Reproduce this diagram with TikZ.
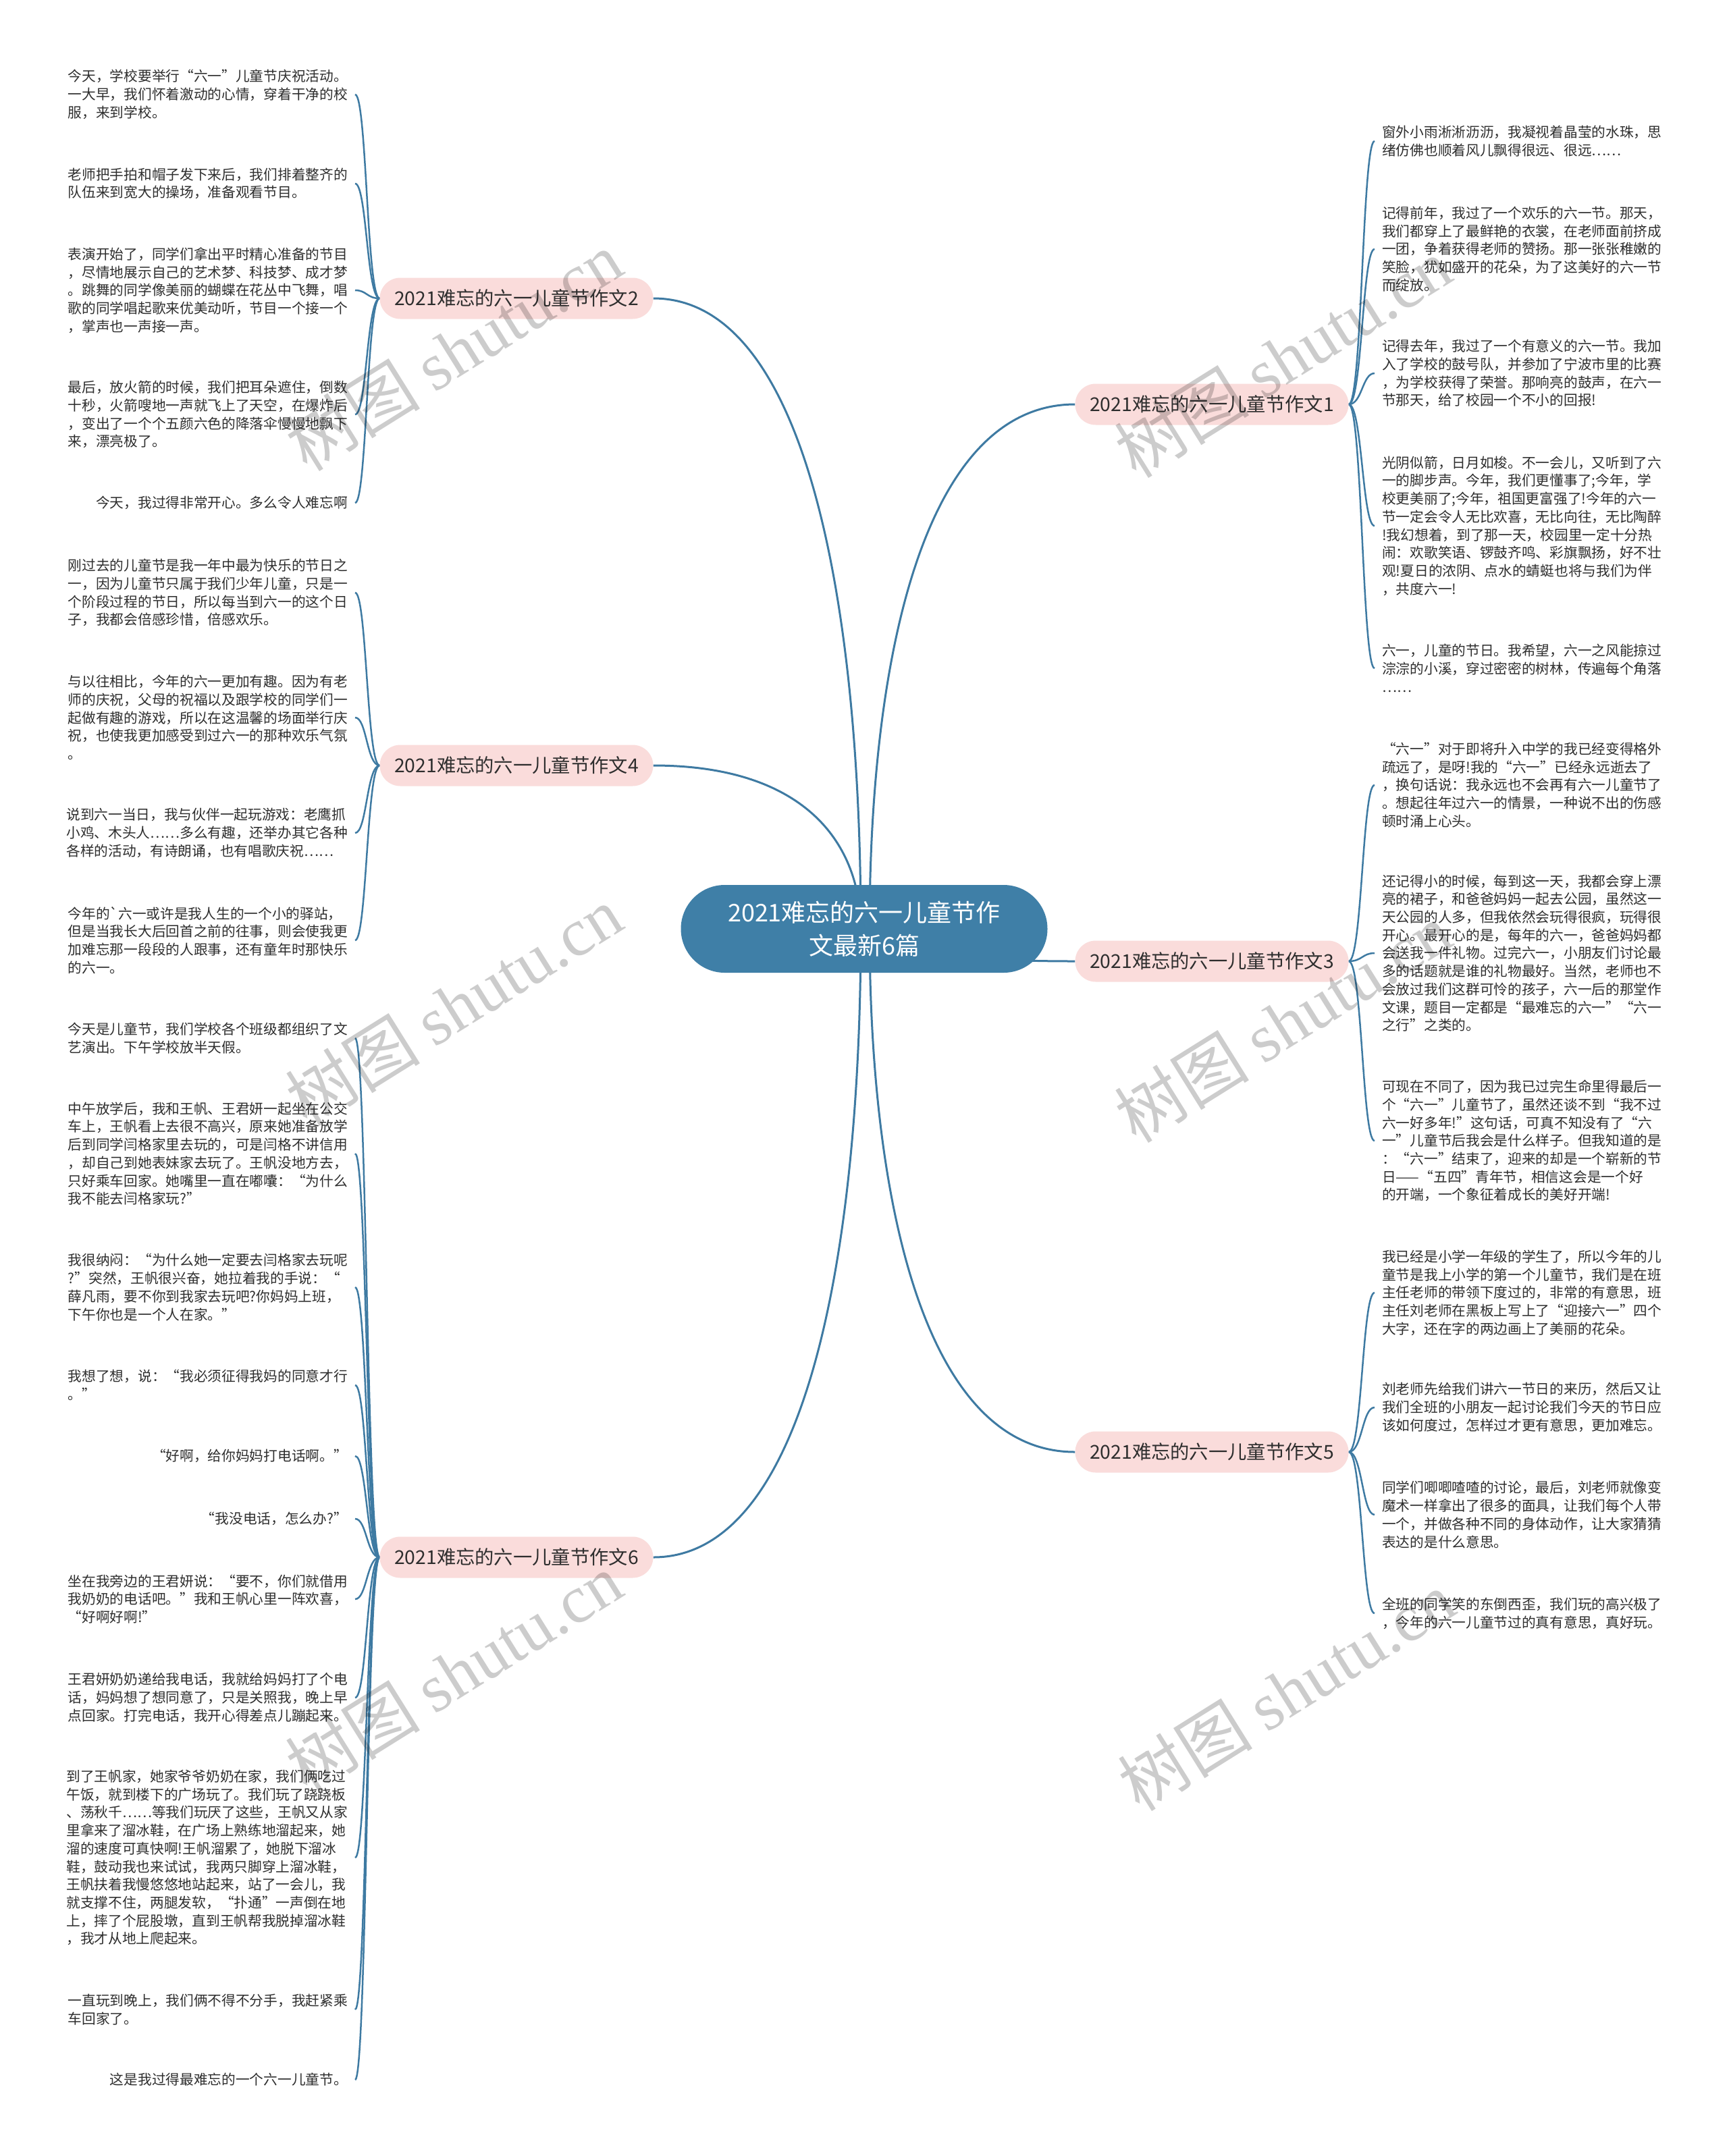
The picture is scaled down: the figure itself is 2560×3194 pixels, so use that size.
\documentclass[tikz,border=0pt]{standalone}
\usepackage{fontspec}
\newfontfamily\cjk{Noto Sans CJK SC}
\newfontfamily\wmfont{Liberation Serif}
\usepackage{tikz}
\usetikzlibrary{positioning,calc,shapes.misc}
\definecolor{rootblue}{HTML}{3F7FA7}
\definecolor{linkblue}{HTML}{3E7AA2}
\definecolor{branchpink}{HTML}{FADCDB}
\definecolor{leafink}{HTML}{2E2E2E}
\pgfdeclarelayer{background}
\pgfsetlayers{background,main}
\tikzset{
  rootbox/.style={rounded rectangle, fill=rootblue, text=white, align=center, minimum width=543pt, minimum height=130pt, inner sep=0pt, font=\cjk\fontsize{36}{49}\selectfont},
  branchbox/.style={rounded rectangle, fill=branchpink, text=leafink, minimum width=405pt, minimum height=61pt, inner sep=0pt, font=\cjk\fontsize{28.3}{34}\selectfont},
  leafl/.style={anchor=east, align=left, inner xsep=11pt, inner ysep=0pt, text=leafink, font=\cjk\fontsize{20.7}{26.7}\selectfont},
  leafr/.style={leafl, anchor=west},
  link/.style={draw=linkblue, line width=3pt},
  leaflink/.style={draw=linkblue, line width=2.5pt},
  wmark/.style={rotate=32, text=black, opacity=0.2, font=\fontsize{100}{100}\selectfont}
}
\begin{document}
\begin{tikzpicture}[x=1pt, y=-1pt]
  \useasboundingbox (0,0) rectangle (2560,3194);
  \node[rootbox] (root) at (1280,1376) {2021难忘的六一儿童节作\\文最新6篇};
  \node[branchbox] (b2) at (765,442) {2021难忘的六一儿童节作文2};
  \node[branchbox] (b4) at (765,1134) {2021难忘的六一儿童节作文4};
  \node[branchbox] (b6) at (765,2307) {2021难忘的六一儿童节作文6};
  \node[branchbox] (b1) at (1795,599) {2021难忘的六一儿童节作文1};
  \node[branchbox] (b3) at (1795,1424) {2021难忘的六一儿童节作文3};
  \node[branchbox] (b5) at (1795,2151) {2021难忘的六一儿童节作文5};

  \node[leafl] (l2a) at (526,140) {今天，学校要举行“六一”儿童节庆祝活动。\\
    一大早，我们怀着激动的心情，穿着干净的校\\
    服，来到学校。};
  \node[leafl] (l2b) at (526,272) {老师把手拍和帽子发下来后，我们排着整齐的\\
    队伍来到宽大的操场，准备观看节目。};
  \node[leafl] (l2c) at (526,430) {表演开始了，同学们拿出平时精心准备的节目\\
    ，尽情地展示自己的艺术梦、科技梦、成才梦\\
    。跳舞的同学像美丽的蝴蝶在花丛中飞舞，唱\\
    歌的同学唱起歌来优美动听，节目一个接一个\\
    ，掌声也一声接一声。};
  \node[leafl] (l2d) at (526,614) {最后，放火箭的时候，我们把耳朵遮住，倒数\\
    十秒，火箭嗖地一声就飞上了天空，在爆炸后\\
    ，变出了一个个五颜六色的降落伞慢慢地飘下\\
    来，漂亮极了。};
  \node[leafl] (l2e) at (526,745) {今天，我过得非常开心。多么令人难忘啊};

  \node[leafl] (l4a) at (526,878) {刚过去的儿童节是我一年中最为快乐的节日之\\
    一，因为儿童节只属于我们少年儿童，只是一\\
    个阶段过程的节日，所以每当到六一的这个日\\
    子，我都会倍感珍惜，倍感欢乐。};
  \node[leafl] (l4b) at (526,1063) {与以往相比，今年的六一更加有趣。因为有老\\
    师的庆祝，父母的祝福以及跟学校的同学们一\\
    起做有趣的游戏，所以在这温馨的场面举行庆\\
    祝，也使我更加感受到过六一的那种欢乐气氛\\
    。};
  \node[leafl] (l4c) at (526,1234) {说到六一当日，我与伙伴一起玩游戏：老鹰抓\\
    小鸡、木头人……多么有趣，还举办其它各种\\
    各样的活动，有诗朗诵，也有唱歌庆祝……};
  \node[leafl] (l4d) at (526,1393) {今年的`六一或许是我人生的一个小的驿站，\\
    但是当我长大后回首之前的往事，则会使我更\\
    加难忘那一段段的人跟事，还有童年时那快乐\\
    的六一。};

  \node[leafl] (l6a) at (526,1538) {今天是儿童节，我们学校各个班级都组织了文\\
    艺演出。下午学校放半天假。};
  \node[leafl] (l6b) at (526,1709) {中午放学后，我和王帆、王君妍一起坐在公交\\
    车上，王帆看上去很不高兴，原来她准备放学\\
    后到同学闫格家里去玩的，可是闫格不讲信用\\
    ，却自己到她表妹家去玩了。王帆没地方去，\\
    只好乘车回家。她嘴里一直在嘟囔：“为什么\\
    我不能去闫格家玩?”};
  \node[leafl] (l6c) at (526,1907) {我很纳闷：“为什么她一定要去闫格家去玩呢\\
    ?”突然，王帆很兴奋，她拉着我的手说：“\\
    薛凡雨，要不你到我家去玩吧?你妈妈上班，\\
    下午你也是一个人在家。”};
  \node[leafl] (l6d) at (526,2052) {我想了想，说：“我必须征得我妈的同意才行\\
    。”};
  \node[leafl] (l6e) at (526,2157) {“好啊，给你妈妈打电话啊。”};
  \node[leafl] (l6f) at (526,2250) {“我没电话，怎么办?”};
  \node[leafl] (l6g) at (526,2369) {坐在我旁边的王君妍说：“要不，你们就借用\\
    我奶奶的电话吧。”我和王帆心里一阵欢喜，\\
    “好啊好啊!”};
  \node[leafl] (l6h) at (526,2515) {王君妍奶奶递给我电话，我就给妈妈打了个电\\
    话，妈妈想了想同意了，只是关照我，晚上早\\
    点回家。打完电话，我开心得差点儿蹦起来。};
  \node[leafl] (l6i) at (526,2752) {到了王帆家，她家爷爷奶奶在家，我们俩吃过\\
    午饭，就到楼下的广场玩了。我们玩了跷跷板\\
    、荡秋千……等我们玩厌了这些，王帆又从家\\
    里拿来了溜冰鞋，在广场上熟练地溜起来，她\\
    溜的速度可真快啊!王帆溜累了，她脱下溜冰\\
    鞋，鼓动我也来试试，我两只脚穿上溜冰鞋，\\
    王帆扶着我慢悠悠地站起来，站了一会儿，我\\
    就支撑不住，两腿发软，“扑通”一声倒在地\\
    上，摔了个屁股墩，直到王帆帮我脱掉溜冰鞋\\
    ，我才从地上爬起来。};
  \node[leafl] (l6j) at (526,2977) {一直玩到晚上，我们俩不得不分手，我赶紧乘\\
    车回家了。};
  \node[leafl] (l6k) at (526,3081) {这是我过得最难忘的一个六一儿童节。};

  \node[leafr] (r1a) at (2036,209) {窗外小雨淅淅沥沥，我凝视着晶莹的水珠，思\\
    绪仿佛也顺着风儿飘得很远、很远……};
  \node[leafr] (r1b) at (2036,369) {记得前年，我过了一个欢乐的六一节。那天，\\
    我们都穿上了最鲜艳的衣裳，在老师面前挤成\\
    一团，争着获得老师的赞扬。那一张张稚嫩的\\
    笑脸，犹如盛开的花朵，为了这美好的六一节\\
    而绽放。};
  \node[leafr] (r1c) at (2036,553) {记得去年，我过了一个有意义的六一节。我加\\
    入了学校的鼓号队，并参加了宁波市里的比赛\\
    ，为学校获得了荣誉。那响亮的鼓声，在六一\\
    节那天，给了校园一个不小的回报!};
  \node[leafr] (r1d) at (2036,779) {光阴似箭，日月如梭。不一会儿，又听到了六\\
    一的脚步声。今年，我们更懂事了;今年，学\\
    校更美丽了;今年，祖国更富强了!今年的六一\\
    节一定会令人无比欢喜，无比向往，无比陶醉\\
    !我幻想着，到了那一天，校园里一定十分热\\
    闹：欢歌笑语、锣鼓齐鸣、彩旗飘扬，好不壮\\
    观!夏日的浓阴、点水的蜻蜓也将与我们为伴\\
    ，共度六一!};
  \node[leafr] (r1e) at (2036,990) {六一，儿童的节日。我希望，六一之风能掠过\\
    淙淙的小溪，穿过密密的树林，传遍每个角落\\
    ……};

  \node[leafr] (r3a) at (2036,1163) {“六一”对于即将升入中学的我已经变得格外\\
    疏远了，是呀!我的“六一”已经永远逝去了\\
    ，换句话说：我永远也不会再有六一儿童节了\\
    。想起往年过六一的情景，一种说不出的伤感\\
    顿时涌上心头。};
  \node[leafr] (r3b) at (2036,1412) {还记得小的时候，每到这一天，我都会穿上漂\\
    亮的裙子，和爸爸妈妈一起去公园，虽然这一\\
    天公园的人多，但我依然会玩得很疯，玩得很\\
    开心。最开心的是，每年的六一，爸爸妈妈都\\
    会送我一件礼物。过完六一，小朋友们讨论最\\
    多的话题就是谁的礼物最好。当然，老师也不\\
    会放过我们这群可怜的孩子，六一后的那堂作\\
    文课，题目一定都是“最难忘的六一”“六一\\
    之行”之类的。};
  \node[leafr] (r3c) at (2036,1690) {可现在不同了，因为我已过完生命里得最后一\\
    个“六一”儿童节了，虽然还谈不到“我不过\\
    六一好多年!”这句话，可真不知没有了“六\\
    一”儿童节后我会是什么样子。但我知道的是\\
    ：“六一”结束了，迎来的却是一个崭新的节\\
    日——“五四”青年节，相信这会是一个好\\
    的开端，一个象征着成长的美好开端!};

  \node[leafr] (r5a) at (2036,1915) {我已经是小学一年级的学生了，所以今年的儿\\
    童节是我上小学的第一个儿童节，我们是在班\\
    主任老师的带领下度过的，非常的有意思，班\\
    主任刘老师在黑板上写上了“迎接六一”四个\\
    大字，还在字的两边画上了美丽的花朵。};
  \node[leafr] (r5b) at (2036,2085) {刘老师先给我们讲六一节日的来历，然后又让\\
    我们全班的小朋友一起讨论我们今天的节日应\\
    该如何度过，怎样过才更有意思，更加难忘。};
  \node[leafr] (r5c) at (2036,2244) {同学们唧唧喳喳的讨论，最后，刘老师就像变\\
    魔术一样拿出了很多的面具，让我们每个人带\\
    一个，并做各种不同的身体动作，让大家猜猜\\
    表达的是什么意思。};
  \node[leafr] (r5d) at (2036,2390) {全班的同学笑的东倒西歪，我们玩的高兴极了\\
    ，今年的六一儿童节过的真有意思，真好玩。};

  \coordinate (rl) at ([xshift=-5pt]root.center);
  \coordinate (rr) at ([xshift=8pt]root.center);
  \coordinate (s2) at ([xshift=-19pt]b2.west);
  \coordinate (s4) at ([xshift=-19pt]b4.west);
  \coordinate (s6) at ([xshift=-19pt]b6.west);
  \coordinate (s1) at ([xshift=20pt]b1.east);
  \coordinate (s3) at ([xshift=20pt]b3.east);
  \coordinate (s5) at ([xshift=20pt]b5.east);

  \begin{pgfonlayer}{background}
    \fill[white] (0,0) rectangle (2560,3194);
    \foreach \b in {b2,b4,b6}
      \draw[link] (rl) .. controls ($(rl)!0.5!(rl |- \b.east)$) and ($(\b.east)!0.75!(\b.east -| rl)$) .. (\b.east);
    \foreach \b in {b1,b3,b5}
      \draw[link] (rr) .. controls ($(rr)!0.5!(rr |- \b.west)$) and ($(\b.west)!0.75!(\b.west -| rr)$) .. (\b.west);
    \foreach \l in {l2a,l2b,l2c,l2d,l2e}
      \draw[leaflink] (b2.west) .. controls (s2) and (s2 |- \l.east) .. (\l.east);
    \foreach \l in {l4a,l4b,l4c,l4d}
      \draw[leaflink] (b4.west) .. controls (s4) and (s4 |- \l.east) .. (\l.east);
    \foreach \l in {l6a,l6b,l6c,l6d,l6e,l6f,l6g,l6h,l6i,l6j,l6k}
      \draw[leaflink] (b6.west) .. controls (s6) and (s6 |- \l.east) .. (\l.east);
    \foreach \l in {r1a,r1b,r1c,r1d,r1e}
      \draw[leaflink] (b1.east) .. controls (s1) and (s1 |- \l.west) .. (\l.west);
    \foreach \l in {r3a,r3b,r3c}
      \draw[leaflink] (b3.east) .. controls (s3) and (s3 |- \l.west) .. (\l.west);
    \foreach \l in {r5a,r5b,r5c,r5d}
      \draw[leaflink] (b5.east) .. controls (s5) and (s5 |- \l.west) .. (\l.west);
  \end{pgfonlayer}

  \node[wmark] (wm1) at (672,520) {\cjk 树图 \wmfont shutu.cn};
  \node[wmark] (wm2) at (672,1490) {\cjk 树图 \wmfont shutu.cn};
  \node[wmark] (wm3) at (672,2478) {\cjk 树图 \wmfont shutu.cn};
  \node[wmark] (wm4) at (1900,530) {\cjk 树图 \wmfont shutu.cn};
  \node[wmark] (wm5) at (1900,1515) {\cjk 树图 \wmfont shutu.cn};
  \node[wmark] (wm6) at (1905,2505) {\cjk 树图 \wmfont shutu.cn};
\end{tikzpicture}
\end{document}
